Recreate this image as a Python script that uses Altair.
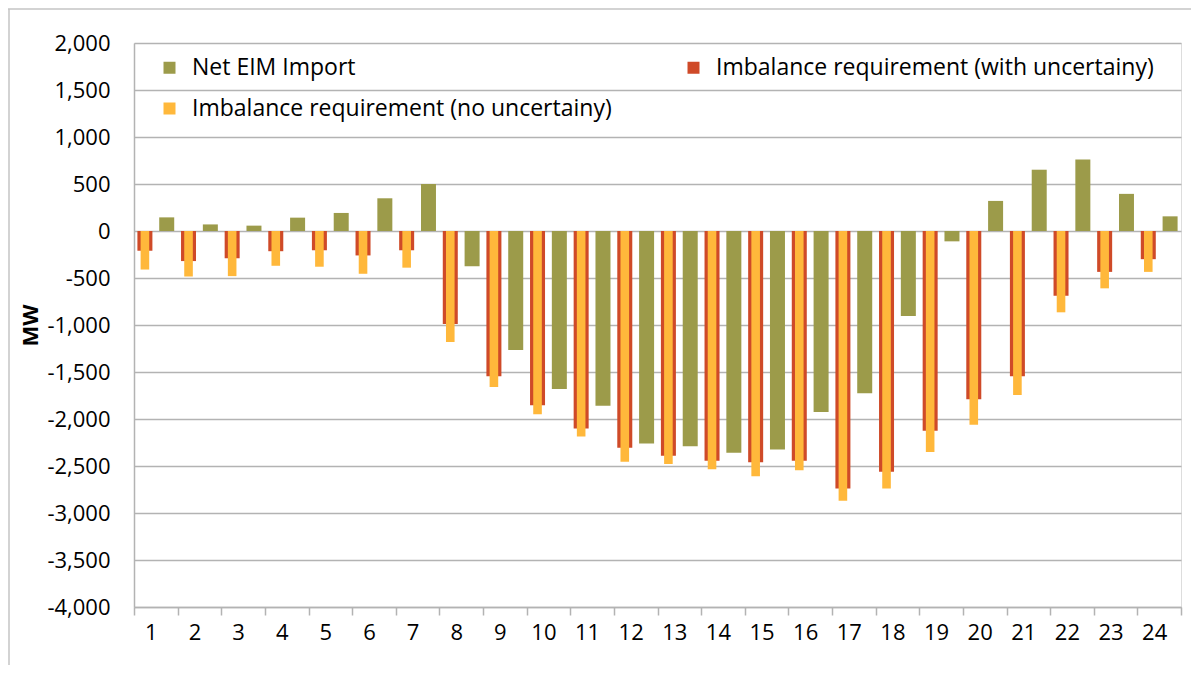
import altair as alt
import pandas as pd

hours = list(range(1, 25))
net_eim = [145, 70, 57, 142, 192, 348, 500, -375, -1265, -1680, -1860, -2260,
           -2290, -2360, -2325, -1925, -1725, -905, -110, 320, 652, 760, 395, 156]
imb_with = [-210, -320, -290, -215, -205, -260, -205, -990, -1545, -1855, -2100, -2305,
            -2390, -2445, -2460, -2445, -2740, -2560, -2125, -1790, -1545, -690, -435, -300]
imb_no = [-410, -485, -480, -370, -380, -455, -390, -1180, -1660, -1950, -2185, -2455,
          -2480, -2535, -2610, -2545, -2870, -2740, -2350, -2060, -1745, -865, -610, -435]
y_ticks = list(range(-4000, 2001, 500))

S_EIM = "Net EIM Import"
S_WITH = "Imbalance requirement (with uncertainy)"
S_NO = "Imbalance requirement (no uncertainy)"
# legend is filled column by column: column 1 = EIM, NO ; column 2 = WITH
series_order = [S_EIM, S_NO, S_WITH]
series_colors = ["#9C9B4A", "#FFB83B", "#CF4A28"]

rows = []
for h, e, w, n in zip(hours, net_eim, imb_with, imb_no):
    rows.append({"hour": h, "series": S_EIM, "slot": "b", "value": e})
    rows.append({"hour": h, "series": S_WITH, "slot": "a", "value": w})
    rows.append({"hour": h, "series": S_NO, "slot": "a", "value": n})
df = pd.DataFrame(rows)

FONT = "Open Sans"
GRID = "#b3b3b3"

x = alt.X("hour:O",
          scale=alt.Scale(paddingInner=0, paddingOuter=0),
          axis=alt.Axis(title=None, labelAngle=0, labelFontSize=22, labelFont=FONT,
                        labelColor="black", tickBand="extent", ticks=True, tickSize=8,
                        tickColor=GRID, tickWidth=1.5, domainColor=GRID, domainWidth=1.5,
                        labelPadding=7, labelOffset=-5, grid=False))
xo = alt.XOffset("slot:N", scale=alt.Scale(domain=["a", "b"], paddingInner=0, paddingOuter=0))
y = alt.Y("value:Q",
          scale=alt.Scale(domain=[-4000, 2000], nice=False),
          axis=alt.Axis(values=y_ticks,
                        labelExpr="replace(format(datum.value, ','), '\u2212', '-')",
                        labelFontSize=22, labelFont=FONT, labelColor="black",
                        labelPadding=24, ticks=False, domainColor=GRID, domainWidth=1.5,
                        gridColor=GRID, gridWidth=1.5,
                        title="MW", titleFontSize=22, titleFont=FONT, titleFontWeight="bold",
                        titleColor="black", titleX=-104, titleY=282, titleAngle=270,
                        titleAlign="center", titleBaseline="middle"))
color = alt.Color("series:N",
                  scale=alt.Scale(domain=series_order, range=series_colors),
                  legend=alt.Legend(title=None, orient="none", legendX=24, legendY=13,
                                    columns=2, columnPadding=70, rowPadding=17,
                                    symbolType="square", symbolSize=144, symbolStrokeWidth=0,
                                    labelFontSize=23, labelFont=FONT, labelColor="black",
                                    labelLimit=1000, labelOffset=11, padding=0))

base = alt.Chart(df)
red = base.transform_filter(alt.datum.series == S_WITH).mark_bar(width=15).encode(
    x=x, xOffset=xo, y=y, color=color)
yellow = base.transform_filter(alt.datum.series == S_NO).mark_bar(width=8.6).encode(
    x=x, xOffset=xo, y=y, color=color)
eim = base.transform_filter(alt.datum.series == S_EIM).mark_bar(width=15).encode(
    x=x, xOffset=xo, y=y, color=color)

# outer chart-area frame (top and left edges, as in the reference)
frame_df = pd.DataFrame({"k": [0]})
frame_top = alt.Chart(frame_df).mark_rule(color="#c4c4c4", strokeWidth=1.5).encode(
    x=alt.value(-126), x2=alt.value(1100), y=alt.value(-34))
frame_left = alt.Chart(frame_df).mark_rule(color="#c4c4c4", strokeWidth=1.5).encode(
    x=alt.value(-125), y=alt.value(-34), y2=alt.value(700))

chart = alt.layer(frame_top, frame_left, red, yellow, eim).properties(
    width=1047, height=564,
    padding={"left": 126, "top": 35, "right": 10, "bottom": 58},
    autosize=alt.AutoSizeParams(type="none"),
).configure_view(stroke=GRID, strokeWidth=1.5).configure(background="white")

chart.save("out.html", embed_options={"renderer": "svg", "actions": False})
